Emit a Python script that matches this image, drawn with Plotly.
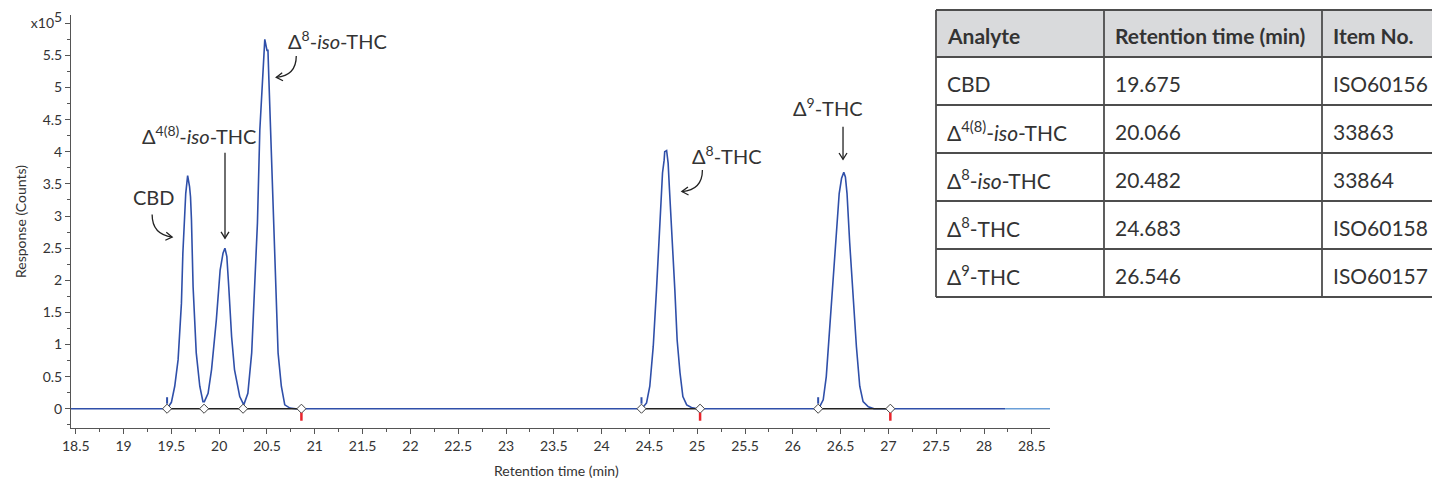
import math
import plotly.graph_objects as go

# ---------------- data ----------------
rt_time = [18.45, 19.44, 19.455, 19.50, 19.535, 19.57, 19.605, 19.62, 19.64, 19.65, 19.67, 19.69, 19.70,
           19.71, 19.727, 19.76, 19.797, 19.83, 19.845,
           19.884, 19.92, 19.97, 20.01, 20.04, 20.06, 20.08, 20.10, 20.13, 20.16, 20.215, 20.257,
           20.30, 20.34, 20.37, 20.40, 20.425, 20.453, 20.46, 20.477, 20.50, 20.51, 20.52, 20.545,
           20.57, 20.59, 20.616, 20.65, 20.686, 20.74, 20.80,
           24.42, 24.47, 24.504, 24.54, 24.574, 24.61, 24.637, 24.654, 24.66, 24.68, 24.696, 24.71,
           24.74, 24.766, 24.79, 24.82, 24.85, 24.89, 24.94, 25.00,
           26.27, 26.318, 26.35, 26.387, 26.42, 26.457, 26.485, 26.51, 26.533, 26.55, 26.567, 26.595,
           26.63, 26.665, 26.70, 26.735, 26.79, 26.85, 28.22]
response = [0.0, 0.0, 0.0, 0.10, 0.35, 0.76, 1.64, 2.42, 3.22, 3.35, 3.63, 3.46, 3.30,
            2.94, 1.90, 0.87, 0.35, 0.11, 0.11,
            0.24, 0.61, 1.38, 2.16, 2.42, 2.50, 2.37, 1.90, 1.12, 0.61, 0.19, 0.06,
            0.24, 0.87, 1.90, 2.89, 4.34, 5.22, 5.32, 5.75, 5.58, 5.58, 5.12, 3.92,
            2.89, 1.90, 0.87, 0.35, 0.06, 0.01, 0.0,
            0.0, 0.09, 0.35, 0.97, 1.85, 2.89, 3.67, 3.87, 4.00, 4.02, 3.82, 3.41,
            2.63, 1.85, 1.07, 0.56, 0.19, 0.06, 0.02, 0.0,
            0.0, 0.14, 0.50, 1.28, 2.06, 2.84, 3.35, 3.59, 3.68, 3.61, 3.35, 2.58,
            1.70, 0.97, 0.35, 0.11, 0.03, 0.0, 0.0]
tail_time = [28.22, 28.69]
tail_response = [0.0, 0.0]

analytes = ["CBD", "Δ<sup>4(8)</sup>-<i>iso</i>-THC", "Δ<sup>8</sup>-<i>iso</i>-THC",
            "Δ<sup>8</sup>-THC", "Δ<sup>9</sup>-THC"]
retention_times = [19.675, 20.066, 20.482, 24.683, 26.546]
item_numbers = ["ISO60156", "33863", "33864", "ISO60158", "ISO60157"]
peak_heights = [3.63, 2.50, 5.75, 4.02, 3.68]

integration_starts = [19.455, 24.417, 26.265]
integration_ends = [20.86, 25.03, 27.02]
valley_marks = [19.842, 20.25]

table_header = ["Analyte", "Retention time (min)", "Item No."]
y_tickvals = [0, 0.5, 1, 1.5, 2, 2.5, 3, 3.5, 4, 4.5, 5, 5.5, 6]
y_ticktext = ["0", "0.5", "1", "1.5", "2", "2.5", "3", "3.5", "4", "4.5", "5", "5.5",
              "x10<sup><span style='font-size:14px'>5</span></sup>"]

# ---------------- layout constants (screen pixels of the reference) ----------------
W, H = 1440, 481
OX, OY = 8, 8          # page body margin offset of the plot div
PL, PR, PT, PB = 71, 1050, 15, 428
FONT = "Lato, 'Open Sans', sans-serif"
TXT = "#333333"
BLUE = "#2f4fa9"
GRID = "#4d4d4d"


def px(x):
    return (x - OX) / W


def py(y):
    return 1 - (y - OY) / H


fig = go.Figure()

fig.add_trace(go.Scatter(x=rt_time, y=response, mode="lines",
                         line=dict(color=BLUE, width=1.6), hoverinfo="skip", showlegend=False))
fig.add_trace(go.Scatter(x=tail_time, y=tail_response, mode="lines",
                         line=dict(color="#6a9fd8", width=1.4), hoverinfo="skip", showlegend=False))

# integration baselines
bx, by = [], []
for s, e in zip(integration_starts, integration_ends):
    bx += [s, e, None]
    by += [0, 0, None]
fig.add_trace(go.Scatter(x=bx, y=by, mode="lines", line=dict(color="#222222", width=1.3),
                         hoverinfo="skip", showlegend=False))
marks = integration_starts + valley_marks + integration_ends
fig.add_trace(go.Scatter(x=marks, y=[0] * len(marks), mode="markers",
                         marker=dict(symbol="diamond", size=7, color="white",
                                     line=dict(color="#444444", width=1)),
                         hoverinfo="skip", showlegend=False))

shapes = []
for s in integration_starts:
    shapes.append(dict(type="line", xref="x", yref="y", xsizemode="pixel", ysizemode="pixel",
                       xanchor=s, yanchor=0, x0=0, x1=0, y0=5, y1=11.5,
                       line=dict(color=BLUE, width=2)))
for e in integration_ends:
    shapes.append(dict(type="line", xref="x", yref="y", xsizemode="pixel", ysizemode="pixel",
                       xanchor=e, yanchor=0, x0=0, x1=0, y0=-4, y1=-12,
                       line=dict(color="#e8242b", width=2.5)))

# label placement (pixel offsets from each peak apex, y positive = up)
label_style = [
    dict(dx=-34, dy=-21.5, arrow=("curve", (-36, -39), (-36, -59), (-16, -61.5))),
    dict(dx=-27, dy=113, arrow=("line", (-0.5, 95.5), None, (-0.5, 10))),
    dict(dx=72, dy=-0.7, arrow=("curve", (31, -16.5), (31, -36), (11, -38))),
    dict(dx=60, dy=-4.5, arrow=("curve", (35.5, -19.5), (35.5, -39.5), (15, -41))),
    dict(dx=-17, dy=65.5, arrow=("line", (-2, 45.5), None, (-2, 13))),
]

annotations = []
ARROW = "#222222"
for name, rt, h, st in zip(analytes, retention_times, peak_heights, label_style):
    annotations.append(dict(x=rt, y=h, xref="x", yref="y", text=name, showarrow=False,
                            xshift=st["dx"], yshift=st["dy"],
                            font=dict(family=FONT, size=20, color=TXT)))
    kind, p0, pc, p1 = st["arrow"]
    if kind == "curve":
        path = f"M {p0[0]},{p0[1]} Q {pc[0]},{pc[1]} {p1[0]},{p1[1]}"
        dirx, diry = p1[0] - pc[0], p1[1] - pc[1]
    else:
        path = f"M {p0[0]},{p0[1]} L {p1[0]},{p1[1]}"
        dirx, diry = p1[0] - p0[0], p1[1] - p0[1]
    shapes.append(dict(type="path", xref="x", yref="y", xsizemode="pixel", ysizemode="pixel",
                       xanchor=rt, yanchor=h, path=path, line=dict(color=ARROW, width=1.3)))
    n = math.hypot(dirx, diry)
    ux, uy = dirx / n, diry / n
    L, ang = 7.5, math.radians(32)
    pts = []
    for sgn in (1, -1):
        ca, sa = math.cos(sgn * ang), math.sin(sgn * ang)
        bxv, byv = -ux, -uy
        rx, ry = bxv * ca - byv * sa, bxv * sa + byv * ca
        pts.append((p1[0] + L * rx, p1[1] + L * ry))
    head = f"M {pts[0][0]:.2f},{pts[0][1]:.2f} L {p1[0]},{p1[1]} L {pts[1][0]:.2f},{pts[1][1]:.2f}"
    shapes.append(dict(type="path", xref="x", yref="y", xsizemode="pixel", ysizemode="pixel",
                       xanchor=rt, yanchor=h, path=head, line=dict(color=ARROW, width=1.3)))

# axis titles
annotations.append(dict(x=px((PL + PR) / 2 - 4), y=py(470), xref="paper", yref="paper",
                        xanchor="center", yanchor="middle",
                        text="Retention time (min)", showarrow=False,
                        font=dict(family=FONT, size=14, color=TXT)))
annotations.append(dict(x=px(20), y=py(222), xref="paper", yref="paper",
                        xanchor="center", yanchor="middle",
                        text="Response (Counts)", showarrow=False, textangle=-90,
                        font=dict(family=FONT, size=14, color=TXT)))

# ---------------- table (grid + text built from the arrays) ----------------
col_edges = [936, 1104, 1322, 1442]
row_top, header_h, row_h = 10, 47, 48
n_rows = len(analytes)
row_edges = [row_top, row_top + header_h] + [row_top + header_h + row_h * (i + 1) for i in range(n_rows)]

shapes.append(dict(type="rect", xref="paper", yref="paper", x0=px(col_edges[0]), x1=px(col_edges[-1]),
                   y0=py(row_edges[0]), y1=py(row_edges[1]), fillcolor="#d9dadc", line=dict(width=0),
                   layer="below"))
for yv in row_edges:
    shapes.append(dict(type="line", xref="paper", yref="paper", x0=px(col_edges[0]), x1=px(col_edges[-1]),
                       y0=py(yv), y1=py(yv), line=dict(color=GRID, width=1.8)))
for xv in col_edges:
    shapes.append(dict(type="line", xref="paper", yref="paper", x0=px(xv), x1=px(xv),
                       y0=py(row_edges[0]), y1=py(row_edges[-1]), line=dict(color=GRID, width=1.8)))

columns = [analytes, [f"{v:.3f}" for v in retention_times], item_numbers]
for ci, head in enumerate(table_header):
    annotations.append(dict(x=px(col_edges[ci] + 9), y=py((row_edges[0] + row_edges[1]) / 2 + 2),
                            xref="paper", yref="paper", text=f"<b>{head}</b>", showarrow=False,
                            xanchor="left", yanchor="middle",
                            font=dict(family=FONT, size=21, color=TXT)))
    for ri, val in enumerate(columns[ci]):
        annotations.append(dict(x=px(col_edges[ci] + 9), y=py((row_edges[ri + 1] + row_edges[ri + 2]) / 2 + 2),
                                xref="paper", yref="paper", text=val, showarrow=False,
                                xanchor="left", yanchor="middle",
                                font=dict(family=FONT, size=21, color=TXT)))

fig.update_layout(
    width=W, height=H, margin=dict(l=0, r=0, t=0, b=0, autoexpand=False),
    paper_bgcolor="white", plot_bgcolor="white",
    font=dict(family=FONT, color=TXT),
    shapes=shapes, annotations=annotations, showlegend=False,
    xaxis=dict(domain=[px(PL), px(PR)], range=[18.45, 28.69], tick0=18.5, dtick=0.5, automargin=False,
               showgrid=False, zeroline=False, showline=True, linecolor="#555555", linewidth=1,
               ticks="outside", ticklen=5, tickcolor="#555555",
               tickfont=dict(family=FONT, size=14, color=TXT),
               minor=dict(dtick=0.25, ticks="outside", ticklen=3, tickcolor="#555555")),
    yaxis=dict(domain=[py(PB), py(PT)], range=[-0.3, 6.13], automargin=False,
               tickvals=y_tickvals, ticktext=y_ticktext,
               showgrid=False, zeroline=False, showline=True, linecolor="#555555", linewidth=1,
               ticks="outside", ticklen=5, tickcolor="#555555",
               tickfont=dict(family=FONT, size=14, color=TXT),
               minor=dict(tickvals=[v + 0.25 for v in y_tickvals[:-1]] + [-0.25],
                          ticks="outside", ticklen=3, tickcolor="#555555")),
)

fig.write_html("out.html")
